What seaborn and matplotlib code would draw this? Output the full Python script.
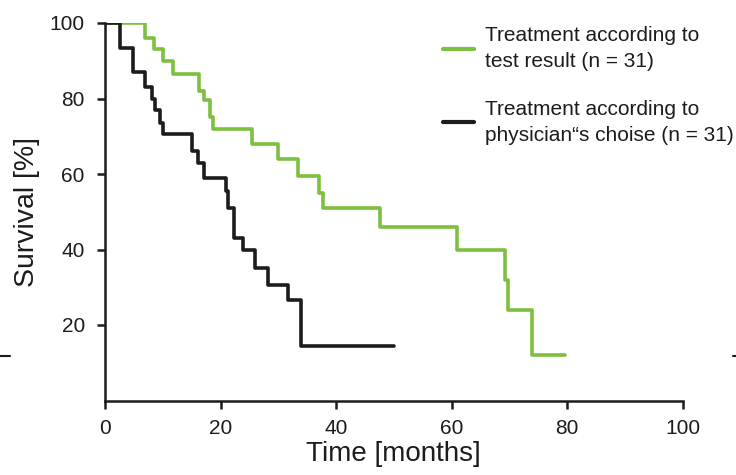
import matplotlib
matplotlib.use("Agg")
import matplotlib.pyplot as plt
from matplotlib.lines import Line2D
import seaborn as sns
import pandas as pd

# Kaplan-Meier style survival curves
test_time = [0, 6.9, 8.4, 10.1, 11.8, 16.3, 17.1, 18.2, 18.7, 25.5, 29.9, 33.4,
             37.0, 37.7, 47.7, 61.0, 69.2, 69.7, 73.9, 79.6]
test_surv = [100, 96, 93, 90, 86.5, 82, 79.5, 75, 72, 68, 64, 59.5,
             55, 51, 46, 40, 32, 24, 12, 12]

phys_time = [0, 2.6, 4.9, 6.9, 8.1, 8.7, 9.5, 10.1, 15.0, 16.1, 17.1, 20.9,
             21.3, 22.3, 23.9, 26.0, 28.3, 31.7, 34.0, 50.0]
phys_surv = [100, 93.5, 87, 83, 80, 77, 73.5, 70.5, 66, 63, 59, 55.5,
             51, 43, 40, 35, 30.5, 26.5, 14.5, 14.5]

labels = ["Treatment according to\ntest result (n = 31)",
          "Treatment according to\nphysician\u201cs choise (n = 31)"]
colors = ["#7dbf3f", "#1c1c1c"]

x_ticks = [0, 20, 40, 60, 80, 100]
y_ticks = [20, 40, 60, 80, 100]

sns.set_style("ticks")
plt.rcParams["font.family"] = ["Liberation Sans", "DejaVu Sans"]

fig = plt.figure(figsize=(7.36, 4.75), dpi=100)
ax = fig.add_axes([105 / 736, 1 - 400.5 / 475, (682.5 - 105) / 736, (400.5 - 23) / 475])

df_test = pd.DataFrame({"time": test_time, "surv": test_surv})
df_phys = pd.DataFrame({"time": phys_time, "surv": phys_surv})

sns.lineplot(data=df_test, x="time", y="surv", ax=ax, color=colors[0], lw=2.6,
             drawstyle="steps-post", label=labels[0], estimator=None, sort=False)
sns.lineplot(data=df_phys, x="time", y="surv", ax=ax, color=colors[1], lw=2.6,
             drawstyle="steps-post", label=labels[1], estimator=None, sort=False)

ax.set_xlim(0, 100)
ax.set_ylim(0, 100)
ax.set_xticks(x_ticks)
ax.set_yticks(y_ticks)
for sp in ["top", "right"]:
    ax.spines[sp].set_visible(False)
for sp in ["left", "bottom"]:
    ax.spines[sp].set_linewidth(1.8)
    ax.spines[sp].set_color("#1c1c1c")
ax.tick_params(axis="both", direction="out", length=5.5, width=1.8, color="#1c1c1c",
               labelsize=15, labelcolor="#1c1c1c")
ax.tick_params(axis="y", pad=9)
ax.tick_params(axis="x", pad=8)

ax.set_xlabel("Time [months]", fontsize=20, color="#1c1c1c", labelpad=2)
ax.set_ylabel("Survival [%]", fontsize=20.5, color="#1c1c1c", labelpad=7)

leg = ax.legend(loc="upper left", bbox_to_anchor=(443 / 736, 1 - 26 / 475),
                bbox_transform=fig.transFigure, frameon=False, fontsize=15,
                handlelength=1.5, handletextpad=0.5, labelspacing=1.4, borderpad=0,
                borderaxespad=0)
for t in leg.get_texts():
    t.set_linespacing(1.45)
    t.set_color("#1c1c1c")
for h in leg.legend_handles:
    h.set_linewidth(3)

# small marks at the page edges
fig.add_artist(Line2D([0, 10 / 736], [1 - 355.7 / 475] * 2, transform=fig.transFigure,
                      color="#1c1c1c", lw=1.5))
fig.add_artist(Line2D([733 / 736, 1], [1 - 355.7 / 475] * 2, transform=fig.transFigure,
                      color="#1c1c1c", lw=1.5))

fig.savefig("out.png", dpi=100)
